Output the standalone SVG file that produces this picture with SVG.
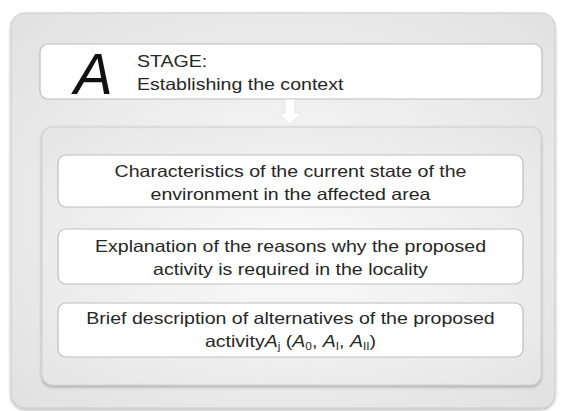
<svg xmlns="http://www.w3.org/2000/svg" width="563" height="411" viewBox="0 0 563 411">
<defs>
<radialGradient id="bg" cx="50%" cy="50%" r="70%">
<stop offset="0" stop-color="#f9f9f9"/><stop offset="1" stop-color="#e1e1e1"/>
</radialGradient>
<radialGradient id="bg2" cx="50%" cy="50%" r="70%">
<stop offset="0" stop-color="#fbfbfb"/><stop offset="1" stop-color="#e5e5e5"/>
</radialGradient>
<filter id="sh" x="-5%" y="-5%" width="110%" height="110%">
<feDropShadow dx="0" dy="1.5" stdDeviation="1.5" flood-color="#000" flood-opacity="0.3"/>
</filter>
</defs>
<style>
.box{fill:#fff;stroke:#bdbdbd;stroke-width:1.2}
.t{font-family:"Liberation Sans",Arial,sans-serif;font-size:16.5px;fill:#262626;text-anchor:middle}
.h{font-family:"Liberation Sans",Arial,sans-serif;font-size:16.5px;fill:#262626}
</style>
<rect x="0" y="0" width="563" height="411" fill="#fff"/>
<g id="frame"><rect x="11" y="13" width="544" height="395" rx="14" fill="url(#bg)" stroke="#cccccc" stroke-width="1" filter="url(#sh)"/></g>
<g id="header">
<rect class="box" x="40" y="44" width="502" height="55" rx="8"/>
<text x="74" y="94" font-family="Liberation Sans,Arial,sans-serif" font-size="58" font-style="italic" fill="#111">A</text>
<text class="h" transform="translate(137,67) scale(1.185,1)">STAGE:</text>
<text class="h" transform="translate(137,90) scale(1.185,1)">Establishing the context</text>
</g>
<g id="connectors">
<path d="M285 99.5 H295 V113 H301 L290 125 L279 113 H285 Z" fill="#fff" stroke="#e2e2e2" stroke-width="0.8"/>
</g>
<g id="panel"><rect x="42" y="127" width="499" height="258" rx="10" fill="url(#bg2)" stroke="#cfcfcf" stroke-width="1" filter="url(#sh)"/></g>
<g id="box1">
<rect class="box" x="58" y="155" width="465" height="52" rx="8"/>
<text class="t" transform="translate(290.5,177) scale(1.185,1)">Characteristics of the current state of the</text>
<text class="t" transform="translate(290.5,200) scale(1.185,1)">environment in the affected area</text>
</g>
<g id="box2">
<rect class="box" x="58" y="229" width="465" height="55" rx="8"/>
<text class="t" transform="translate(290.5,252) scale(1.185,1)">Explanation of the reasons why the proposed</text>
<text class="t" transform="translate(290.5,275) scale(1.185,1)">activity is required in the locality</text>
</g>
<g id="box3">
<rect class="box" x="58" y="303" width="465" height="54" rx="8"/>
<text class="t" transform="translate(290.5,324) scale(1.185,1)">Brief description of alternatives of the proposed</text>
<text class="t" transform="translate(290.5,347) scale(1.185,1)">activity<tspan font-style="italic">A</tspan><tspan font-size="10" dy="3">j</tspan><tspan dy="-3"> (</tspan><tspan font-style="italic">A</tspan><tspan font-size="10" dy="3">0</tspan><tspan dy="-3">, </tspan><tspan font-style="italic">A</tspan><tspan font-size="10" dy="3">I</tspan><tspan dy="-3">, </tspan><tspan font-style="italic">A</tspan><tspan font-size="10" dy="3">II</tspan><tspan dy="-3">)</tspan></text>
</g>
</svg>
